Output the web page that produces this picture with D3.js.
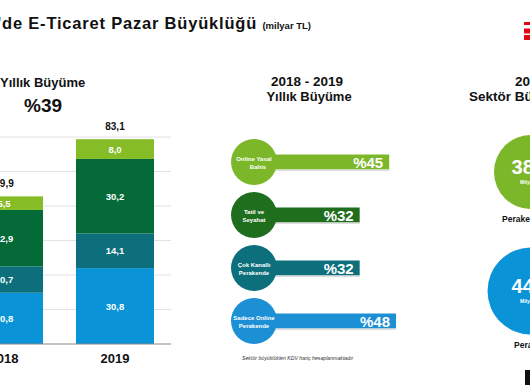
<!DOCTYPE html>
<html lang="tr">
<head>
<meta charset="UTF-8">
<title>E-Ticaret Pazar Büyüklüğü</title>
<script src="https://cdn.jsdelivr.net/npm/d3@7"></script>
<style>
  body { margin: 0; padding: 0; background: #fff; }
  svg { display: block; font-family: Arial, "Liberation Sans", sans-serif; }
</style>
</head>
<body>
<div id="chart"></div>
<script>
// stacked bars (milyar TL)
const years = ["2018", "2019"];
const segments = ["Sadece Online Perakende", "Çok Kanallı Perakende", "Tatil ve Seyahat", "Online Yasal Bahis"];
const segValues = {
  "2018": [20.8, 10.7, 22.9, 5.5],
  "2019": [30.8, 14.1, 30.2, 8.0]
};
const totals = [59.9, 83.1];
const gridTicks = [0, 14, 28, 42, 56, 70, 84];

// growth rows
const growthLabels = [["Online Yasal", "Bahis"], ["Tatil ve", "Seyahat"], ["Çok Kanallı", "Perakende"], ["Sadece Online", "Perakende"]];
const growthValues = [45, 32, 32, 48];

// 2019 sector size circles
const sectorNames = ["Perakende Dışı", "Perakende"];
const sectorValues = [38.2, 44.9];

const segColors = ["#0a93d6", "#0d6f7c", "#046a38", "#86bc25"];
const growthColors = ["#7cb72a", "#1f6e1e", "#0d6f7c", "#1d8fd5"];
const sectorColors = ["#7cb72a", "#0a93d6"];

const W = 530, H = 385;
const fmt = v => d3.format(".1f")(v).replace(".", ",");

const svg = d3.select("#chart").append("svg").attr("width", W).attr("height", H);

// title
const title = svg.append("text").attr("x", 311).attr("y", 29).attr("text-anchor", "end")
  .attr("font-size", 16.5).attr("font-weight", "bold").attr("fill", "#111");
title.append("tspan").attr("letter-spacing", 0.8).text("Türkiye'de E-Ticaret Pazar Büyüklüğü ");
title.append("tspan").attr("font-size", 9.5).text("(milyar TL)");

// red logo top right
svg.selectAll(".logo").data([0, 1, 2]).enter().append("rect")
  .attr("x", 524).attr("y", d => 22 + d * 6.5).attr("width", 8).attr("height", d => d === 0 ? 3 : 5)
  .attr("fill", "#e30613");

// ---------- left: stacked bars ----------
const x = d3.scaleBand().domain(years).range([-57.2, 176.2]).paddingInner(0.297).paddingOuter(0.2);
const y = d3.scaleLinear().domain([0, 84]).range([344, 137]);

svg.append("g").selectAll("line").data(gridTicks.slice(1)).enter().append("line")
  .attr("x1", 0).attr("x2", 171).attr("y1", d => y(d)).attr("y2", d => y(d))
  .attr("stroke", "#e2e2e2").attr("stroke-width", 1);

years.forEach((yr, i) => {
  let acc = 0;
  const g = svg.append("g");
  segValues[yr].forEach((v, j) => {
    const y0 = acc, y1 = acc + v;
    acc = y1;
    g.append("rect").attr("x", x(yr)).attr("width", x.bandwidth())
      .attr("y", y(y1)).attr("height", y(y0) - y(y1)).attr("fill", segColors[j]);
    g.append("text").attr("x", x(yr) + x.bandwidth() / 2).attr("y", (y(y0) + y(y1)) / 2 + 3.5)
      .attr("text-anchor", "middle").attr("font-size", 9.5).attr("font-weight", "bold")
      .attr("fill", "#fff").text(fmt(v));
  });
  svg.append("text").attr("x", x(yr) + x.bandwidth() / 2).attr("y", y(totals[i]) - 9)
    .attr("text-anchor", "middle").attr("font-size", 10).attr("font-weight", "bold")
    .attr("fill", "#111").text(fmt(totals[i]));
});

const xAxis = svg.append("g").attr("transform", "translate(0,344)")
  .call(d3.axisBottom(x).tickSize(0).tickPadding(10));
xAxis.select(".domain").attr("d", "M0,0H171").attr("stroke", "#888");
xAxis.selectAll("text").attr("font-size", 13).attr("font-weight", "bold").attr("fill", "#111")
  .attr("font-family", "Arial, 'Liberation Sans', sans-serif");

svg.append("text").attr("x", 0).attr("y", 87)
  .attr("font-size", 13).attr("font-weight", "bold").attr("fill", "#111").text("Yıllık Büyüme");
svg.append("text").attr("x", 43).attr("y", 112).attr("text-anchor", "middle")
  .attr("font-size", 19).attr("font-weight", "bold").attr("fill", "#111").text("%39");

// ---------- middle: growth rows ----------
svg.append("text").attr("x", 307).attr("y", 86).attr("text-anchor", "middle")
  .attr("font-size", 13.5).attr("font-weight", "bold").attr("fill", "#111").text("2018 - 2019");
svg.append("text").attr("x", 309).attr("y", 101).attr("text-anchor", "middle")
  .attr("font-size", 13).attr("font-weight", "bold").attr("fill", "#111").text("Yıllık Büyüme");

const gx = d3.scaleLinear().domain([0, 48]).range([287, 396]);
const rowY = d3.scalePoint().domain(d3.range(growthValues.length)).range([162, 321]);
const cx = 254;

growthValues.forEach((v, i) => {
  const cy = rowY(i);
  svg.append("rect").attr("x", cx).attr("y", cy - 7.5).attr("width", gx(v) - cx).attr("height", 15)
    .attr("fill", growthColors[i]);
  svg.append("rect").attr("x", cx).attr("y", cy + 7.5).attr("width", gx(v) - cx).attr("height", 1.5)
    .attr("fill", "#ddd");
  svg.append("circle").attr("cx", cx).attr("cy", cy).attr("r", 23).attr("fill", growthColors[i]);
  svg.append("text").attr("x", gx(v) - 21).attr("y", cy + 5.5).attr("text-anchor", "middle")
    .attr("font-size", 15).attr("font-weight", "bold").attr("fill", "#fff").text("%" + v);
  const t = svg.append("text").attr("text-anchor", "middle").attr("font-size", 6)
    .attr("font-weight", "bold").attr("fill", "#fff");
  growthLabels[i].forEach((l, k) => {
    t.append("tspan").attr("x", cx + (k === 1 && i === 0 ? 4 : 0)).attr("y", cy - 1 + k * 7.5).text(l);
  });
});

svg.append("text").attr("x", 242).attr("y", 360).attr("font-size", 5.2).attr("font-style", "italic")
  .attr("fill", "#333").text("Sektör büyüklükleri KDV hariç hesaplanmaktadır");

// ---------- right: sector circles ----------
svg.append("text").attr("x", 530).attr("y", 86).attr("text-anchor", "middle")
  .attr("font-size", 13.5).attr("font-weight", "bold").attr("fill", "#111").text("2019");
svg.append("text").attr("x", 469).attr("y", 101)
  .attr("font-size", 13.5).attr("font-weight", "bold").attr("fill", "#111").text("Sektör Büyüklüğü");

const r = d3.scaleLinear().domain([0, 44.9]).range([0, 43.5]);
const sy = [172, 291];
const ccx = 531;
sectorValues.forEach((v, i) => {
  svg.append("circle").attr("cx", ccx).attr("cy", sy[i]).attr("r", r(v)).attr("fill", sectorColors[i]);
  svg.append("text").attr("x", ccx).attr("y", sy[i] + 2).attr("text-anchor", "middle")
    .attr("font-size", 20).attr("font-weight", "bold").attr("fill", "#fff").text(fmt(v));
  svg.append("text").attr("x", ccx).attr("y", sy[i] + 12).attr("text-anchor", "middle")
    .attr("font-size", 5).attr("font-weight", "bold").attr("fill", "#fff").text("Milyar TL");
  svg.append("text").attr("x", i === 0 ? 502 : 514).attr("y", sy[i] + r(v) + 13)
    .attr("font-size", 8.5).attr("font-weight", "bold").attr("fill", "#111").text(sectorNames[i]);
});

// black logo bottom right
svg.append("rect").attr("x", 525).attr("y", 370).attr("width", 10).attr("height", 16).attr("fill", "#111");
</script>
</body>
</html>
